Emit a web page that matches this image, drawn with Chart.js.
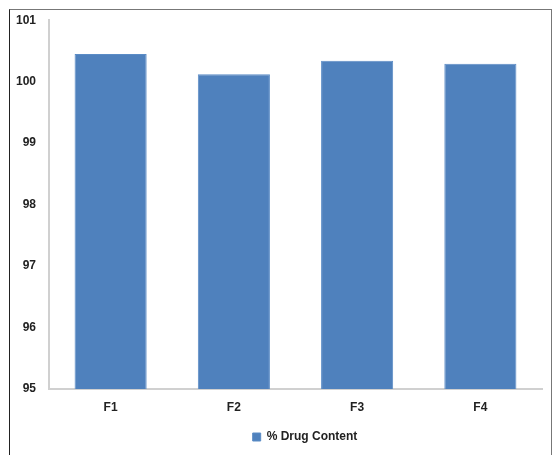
<!DOCTYPE html>
<html>
<head>
<meta charset="utf-8">
<script src="https://cdn.jsdelivr.net/npm/chart.js@4/dist/chart.umd.min.js"></script>
<style>
  body { margin: 0; background: #fff; }
  #wrap { position: relative; width: 559px; height: 455px; overflow: hidden; }
  #frame { position: absolute; left: 9px; top: 9px; width: 541px; height: 470px;
           border-left: 1px solid #222; border-top: 1px solid #777; border-right: 1px solid #777; }
  canvas { position: absolute; left: 0; top: 0; }
</style>
</head>
<body>
<div id="wrap">
  <div id="frame"></div>
  <canvas id="chart" width="559" height="455"></canvas>
</div>
<script>
// data
const formulations = ["F1", "F2", "F3", "F4"];
const drugContent = [100.45, 100.12, 100.34, 100.29];
const seriesName = "% Drug Content";

const yMin = 95;
const yMax = 101;

const font = { family: "'Liberation Sans', Arial, sans-serif", size: 12, weight: "bold" };

// move the legend to where it sits in the original
const legendShift = {
  id: "legendShift",
  afterLayout(chart) {
    chart.legend.left += 29;
    chart.legend.right += 29;
  }
};

new Chart(document.getElementById("chart"), {
  type: "bar",
  data: {
    labels: formulations,
    datasets: [{
      label: seriesName,
      data: drugContent,
      backgroundColor: "#4F81BD",
      borderColor: "#5b8cc6",
      borderWidth: 1,
      categoryPercentage: 0.585,
      barPercentage: 1
    }]
  },
  options: {
    responsive: false,
    animation: false,
    layout: { padding: { left: 10, right: 17, top: 19, bottom: 2 } },
    scales: {
      x: {
        grid: { display: false, drawTicks: false },
        border: { display: true, color: "#d0d0d0", width: 2 },
        ticks: { color: "#222", font: font, padding: 11 },
        afterFit(axis) { axis.height = 32; }
      },
      y: {
        min: yMin,
        max: yMax,
        grid: { display: false, drawTicks: false },
        border: { display: true, color: "#d0d0d0", width: 2 },
        ticks: { stepSize: 1, color: "#222", font: font, padding: 13 },
        afterFit(axis) { axis.width = 39; }
      }
    },
    plugins: {
      legend: {
        position: "bottom",
        labels: { color: "#222", font: font, boxWidth: 8, boxHeight: 8 }
      },
      tooltip: { enabled: false }
    }
  },
  plugins: [legendShift]
});
</script>
</body>
</html>
